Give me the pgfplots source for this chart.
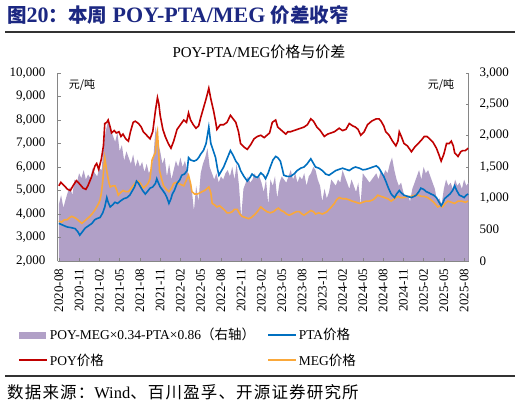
\documentclass[border=0pt]{standalone}
\usepackage{fontspec}
\setmainfont{Liberation Serif}
\newfontfamily\cjk{Noto Sans CJK SC}
\newfontfamily\cjksp{Noto Sans CJK SC}[LetterSpace=7]
\usepackage{pgfplots}
\pgfplotsset{compat=1.18}
\definecolor{poy}{RGB}{192,0,0}
\definecolor{pta}{RGB}{0,112,192}
\definecolor{meg}{RGB}{250,168,58}
\definecolor{spr}{RGB}{177,160,199}
\definecolor{axgray}{RGB}{134,134,134}
\definecolor{navy}{RGB}{28,40,130}
\definecolor{rule}{RGB}{50,50,50}
\newcommand\zh[1]{{\cjk #1}}
\begin{document}
\begin{tikzpicture}
\useasboundingbox (0pt,0pt) rectangle (521pt,406pt);
\fill[white] (0pt,0pt) rectangle (521pt,406pt);
\node[anchor=west, text=navy, font=\fontsize{22}{26}\selectfont\bfseries, inner sep=0pt] at (7pt,391pt)
  {{\cjk\fontsize{19.5}{23}\selectfont 图}20{\cjk\fontsize{19.5}{23}\selectfont ：本周} POY-PTA/MEG {\cjk\fontsize{19.5}{23}\selectfont 价差收窄}};
\draw[rule, line width=1.2pt] (5pt,374pt) -- (515pt,374pt);
\draw[rule, line width=1.2pt] (5pt,30pt) -- (515pt,30pt);
\node[anchor=west, inner sep=0pt, font=\fontsize{16.5}{19}\selectfont] at (7pt,13.5pt)
  {{\cjksp 数据来源：}Wind{\cjksp 、百川盈孚、开源证券研究所}};
\node[font=\fontsize{15}{18}\selectfont, inner sep=0pt] at (259pt,354pt) {POY-PTA/MEG{\cjk 价格与价差}};
\node[font=\cjk\fontsize{11}{13}\selectfont, inner sep=0pt] at (82pt,321pt) {元/吨};
\node[font=\cjk\fontsize{11}{13}\selectfont, inner sep=0pt] at (441pt,321pt) {元/吨};

% right axis: spread area
\begin{axis}[at={(57.5pt,145pt)}, anchor=south west, scale only axis,
  width=411pt, height=188pt,
  xmin=-0.2, xmax=60.65, ymin=0, ymax=3000,
  axis y line*=right, hide x axis,
  ytick={0,500,1000,1500,2000,2500,3000},
  scaled y ticks=false,
  tick align=inside, major tick length=3pt,
  y axis line style={draw=axgray, line width=0.8pt},
  ytick style={draw=axgray, line width=0.6pt},
  yticklabel style={font=\fontsize{13}{15}\selectfont, anchor=west, inner sep=0pt, xshift=11pt},
  /pgf/number format/.cd, 1000 sep={,}, assume math mode=true]
\addplot[fill=spr, draw=none] table {
x y
0 900
0.33 1050
0.67 850
1 980
1.33 1100
1.67 1180
2 1050
2.33 1300
2.67 1250
3 1400
3.33 1320
3.67 1450
4 1300
4.33 1380
4.67 1320
5 1480
5.33 1400
5.67 1350
6 1480
6.33 1450
6.67 1900
7 2100
7.33 2250
7.67 2100
8 2000
8.33 1900
8.67 2050
9 1750
9.33 1850
9.67 1600
10 1750
10.33 1650
10.67 1550
11 1700
11.33 1500
11.67 1620
12 1500
12.33 1580
12.67 1420
13 1550
13.33 1400
13.67 1480
14 1650
14.33 2150
14.67 1900
15 1750
15.33 1550
15.67 1650
16 1350
16.33 1550
16.67 1300
17 1450
17.33 1600
17.67 1500
18 1650
18.33 1500
18.67 1600
19 1450
19.33 1300
19.67 1150
20 800
20.33 1200
20.67 950
21 1400
21.33 1550
21.67 1650
22 1800
22.33 1500
22.67 1400
23 1300
23.33 1400
23.67 1250
24 1350
24.33 1300
24.67 1400
25 1450
25.33 1350
25.67 1500
26 1300
26.33 1550
26.67 1200
27 700
27.33 1150
27.67 1250
28 1350
28.33 1250
28.67 1300
29 1400
29.33 1300
29.67 1350
30 1250
30.33 1100
30.67 1300
31 900
31.33 1300
31.67 1200
32 1350
32.33 1000
32.67 1250
33 1350
33.33 1300
33.67 1250
34 1350
34.33 1450
34.67 1300
35 1400
35.33 1250
35.67 1350
36 1300
36.33 1400
36.67 1200
37 1350
37.33 1400
37.67 1500
38 1450
38.33 1300
38.67 1200
39 950
39.33 1150
39.67 1000
40 1100
40.33 1300
40.67 1250
41 1200
41.33 1300
41.67 1250
42 1450
42.33 1350
42.67 1250
43 1150
43.33 1300
43.67 1200
44 1100
44.33 1250
44.67 900
45 1400
45.33 1350
45.67 1300
46 1250
46.33 1300
46.67 1350
47 1400
47.33 1300
47.67 1450
48 1350
48.33 1450
48.67 1400
49 1550
49.33 1650
49.67 1450
50 1300
50.33 1200
50.67 1250
51 1100
51.33 1000
51.67 1050
52 950
52.33 1150
52.67 1250
53 1350
53.33 1450
53.67 1300
54 1500
54.33 1400
54.67 1450
55 1350
55.33 1250
55.67 1150
56 950
56.33 1000
56.67 900
57 1150
57.33 1300
57.67 1200
58 1250
58.33 1150
58.67 1300
59 1200
59.33 1250
59.67 1150
60 1300
60.33 1200
60.65 1250
} \closedcycle;
\end{axis}

% left axis: prices
\begin{axis}[at={(57.5pt,145pt)}, anchor=south west, scale only axis,
  width=411pt, height=188pt,
  xmin=-0.2, xmax=60.65, ymin=2000, ymax=10000,
  axis x line*=bottom, axis y line*=left,
  ytick={2000,3000,...,10000},
  scaled y ticks=false,
  xtick={0,3,...,60},
  xticklabels={2020-08,2020-11,2021-02,2021-05,2021-08,2021-11,2022-02,2022-05,2022-08,2022-11,2023-02,2023-05,2023-08,2023-11,2024-02,2024-05,2024-08,2024-11,2025-02,2025-05,2025-08},
  tick align=inside, major tick length=3pt,
  axis line style={draw=axgray, line width=0.8pt, -},
  tick style={draw=axgray, line width=0.6pt},
  yticklabel style={font=\fontsize{13}{15}\selectfont, anchor=east, inner sep=0pt, xshift=-12pt},
  xticklabel style={font=\fontsize{13}{15}\selectfont, yshift=-7.5pt, rotate=90, anchor=east, inner sep=0pt},
  legend style={at={(0,0)}, anchor=north west, xshift=-39.5pt, yshift=-65pt, draw=none, fill=none,
    inner sep=0pt, legend columns=2, font=\fontsize{13.5}{16}\selectfont, row sep=8.5pt,
    /tikz/every even column/.append style={column sep=10pt}},
  legend cell align=left,
  /pgf/number format/.cd, 1000 sep={,}, assume math mode=true]
\addlegendimage{legend image code/.code={\fill[spr] (0pt,-3pt) rectangle (26pt,3pt);}}
\addlegendentry{POY-MEG×0.34-PTA×0.86\zh{（右轴）}}
\addlegendimage{legend image code/.code={\draw[pta, line width=1.6pt] (0pt,0pt) -- (28pt,0pt);}}
\addlegendentry{PTA\zh{价格}}
\addlegendimage{legend image code/.code={\draw[poy, line width=1.6pt] (0pt,0pt) -- (28pt,0pt);}}
\addlegendentry{POY\zh{价格}}
\addlegendimage{legend image code/.code={\draw[meg, line width=1.6pt] (0pt,0pt) -- (28pt,0pt);}}
\addlegendentry{MEG\zh{价格}}

\addplot[meg, line width=1.6pt, forget plot] table {
x y
0 3700
0.4 3650
0.8 3750
1.2 3750
1.6 3850
1.9 3900
2.3 3850
2.6 3800
3.0 3700
3.4 3600
3.8 3700
4.2 3800
4.6 3900
4.9 4000
5.3 4150
5.6 4300
5.9 4450
6.1 4600
6.3 4900
6.5 5400
6.7 6100
6.8 6400
7.0 6000
7.2 5650
7.4 5350
7.6 5150
8.0 5200
8.3 5200
8.6 5000
8.8 4800
9.1 4900
9.5 5000
9.9 4950
10.3 4950
10.6 5050
11.0 5200
11.4 5350
11.8 5400
12.2 5250
12.5 5100
12.9 5200
13.2 5300
13.5 5500
13.8 6300
14.1 6500
14.3 6600
14.5 7350
14.6 7500
14.8 6500
14.9 5850
15.2 5500
15.5 5200
15.9 5050
16.3 4950
16.7 5100
17.0 5300
17.4 5350
17.7 5300
18.1 5250
18.5 5200
18.9 5450
19.2 5650
19.5 5300
19.7 4950
20.1 4850
20.5 4850
20.9 4900
21.2 4950
21.6 5000
22.2 5150
22.5 4900
22.7 4450
23.0 4400
23.4 4300
23.8 4350
24.2 4250
24.6 4150
24.9 4050
25.3 4050
25.7 4100
26.0 4200
26.4 4200
26.8 4000
27.1 3900
27.6 3850
28.1 3800
28.5 3850
28.9 3950
29.4 4100
29.9 4300
30.3 4200
30.8 4100
31.3 4050
31.8 4100
32.2 4200
32.5 4250
32.9 4150
33.3 4100
33.7 4000
34.1 3950
34.5 4000
34.8 4050
35.2 4100
35.6 4100
36.0 4000
36.3 3950
36.8 4050
37.3 4150
37.7 4100
38.0 4000
38.5 4050
39.0 4000
39.4 4050
39.7 4100
40.2 4250
40.8 4450
41.1 4600
41.5 4700
42.0 4650
42.5 4650
43.0 4600
43.4 4550
44.0 4500
44.5 4450
45.0 4500
45.5 4550
46.0 4550
46.5 4600
46.9 4700
47.2 4800
47.7 4750
48.2 4700
48.7 4650
49.2 4550
49.7 4650
50.2 4750
50.6 4700
51.1 4700
51.6 4750
52.2 4750
52.7 4800
53.2 4800
53.7 4750
54.1 4750
54.6 4700
55.1 4600
55.5 4500
56.1 4300
56.5 4350
56.8 4300
57.2 4450
57.6 4550
58.1 4500
58.6 4450
59.1 4550
59.6 4550
60.2 4500
60.6 4550
};
\addplot[pta, line width=1.6pt, forget plot] table {
x y
0 3600
0.4 3550
0.8 3500
1.2 3450
1.8 3420
2.4 3380
2.8 3250
3.1 3100
3.5 3250
3.9 3400
4.4 3500
4.9 3600
5.3 3750
5.6 3800
6.1 3850
6.5 4050
6.8 4300
7.1 4700
7.3 4500
7.6 4300
8.0 4400
8.3 4500
8.7 4450
9.1 4550
9.6 4650
10.1 4700
10.5 4800
10.8 4950
11.2 5150
11.5 5400
11.8 5300
12.0 5200
12.4 5000
12.8 4850
13.1 4950
13.5 5100
13.9 5150
14.3 5300
14.5 5500
14.7 5350
15.0 5150
15.4 5000
15.75 4850
16.0 4700
16.3 4450
16.6 4650
16.8 4850
17.1 5000
17.5 5300
17.9 5450
18.2 5650
18.6 5700
19.0 5850
19.2 6400
19.5 6300
20.0 6250
20.4 6300
20.7 6400
21.0 6550
21.4 6700
21.8 7000
22.2 7700
22.5 7000
22.8 6750
23.2 6400
23.5 5900
23.7 5650
24.0 5800
24.4 6000
24.9 6350
25.4 6700
25.8 6500
26.2 6250
26.6 6100
26.9 5850
27.4 5600
27.9 5400
28.3 5550
28.6 5700
29.0 5600
29.4 5550
29.9 5750
30.3 5650
30.6 5500
31.0 5750
31.3 6000
31.7 6300
32.1 6450
32.4 6400
32.8 6250
33.1 5900
33.3 5650
33.8 5600
34.3 5600
34.8 5700
35.3 5850
35.8 5950
36.3 6000
36.8 6150
37.3 6350
37.6 6200
38.0 6000
38.5 5950
39.0 5850
39.5 5700
40.0 5650
40.5 5750
41.0 5850
41.5 5900
42.0 5950
42.5 5900
43.0 5850
43.5 5950
43.9 6000
44.5 5950
45.0 5880
45.5 5900
46.0 5950
46.5 6000
47.0 6050
47.4 5950
47.7 5800
48.1 5600
48.4 5400
48.8 5100
49.2 4850
49.7 4700
50.0 4850
50.4 5000
50.7 4900
51.1 4800
51.6 4750
52.2 4700
52.6 4750
52.9 4800
53.3 4950
53.6 5100
54.0 5050
54.4 4950
54.8 4900
55.1 4850
55.5 4800
55.9 4700
56.3 4500
56.6 4350
56.9 4500
57.1 4650
57.5 4750
57.9 4850
58.3 5000
58.6 5200
58.9 5000
59.3 4800
59.7 4750
60.0 4700
60.3 4800
60.6 4850
};
\addplot[poy, line width=1.6pt, forget plot] table {
x y
0 5200
0.3 5350
0.8 5200
1.3 5050
1.7 5000
2.2 5250
2.6 5420
3.0 5300
3.6 5100
4.0 5050
4.3 5200
4.8 5550
5.35 6050
5.6 6150
5.9 5900
6.3 6350
6.6 6900
6.8 7850
7.1 7900
7.3 8000
7.6 7700
7.8 7450
8.2 7550
8.5 7450
8.9 7500
9.2 7300
9.5 7400
9.9 7200
10.3 7100
10.6 7500
11.0 7900
11.3 7950
11.8 7850
12.2 7700
12.5 7500
13.0 7350
13.5 7200
13.9 7500
14.3 8400
14.6 8950
14.8 8700
15.0 8200
15.4 7600
15.75 7300
16.2 7000
16.6 6800
17.0 7100
17.5 7600
18.0 7800
18.5 8000
18.9 7900
19.2 8300
19.5 8000
19.9 7800
20.3 7650
20.7 7750
21.0 8100
21.4 8500
21.8 8900
22.2 9350
22.5 8900
22.9 8400
23.2 7950
23.4 7600
23.9 7800
24.4 7800
24.9 7900
25.4 8200
25.8 8050
26.2 7900
26.6 7500
26.9 7000
27.4 6850
27.9 6750
28.4 6950
28.9 7200
29.4 7300
29.9 7350
30.4 7250
30.8 7350
31.2 7450
31.6 7900
32.1 8000
32.4 7700
32.8 7600
33.2 7500
33.6 7400
33.9 7500
34.3 7500
34.8 7550
35.3 7600
35.8 7650
36.3 7700
36.8 7800
37.3 8050
37.7 7950
38.2 7700
38.7 7550
39.3 7300
39.8 7400
40.3 7450
40.8 7500
41.5 7650
42.0 7550
42.5 7600
43.0 7850
43.5 7750
43.9 7700
44.3 7600
44.7 7350
45.2 7500
45.7 7800
46.3 7950
47.0 8050
47.4 8050
47.7 7950
48.1 7750
48.4 7500
48.9 7350
49.4 7100
49.9 6900
50.2 7100
50.4 7500
50.7 7300
51.1 7000
51.6 6900
52.2 6650
52.7 6850
53.2 7000
53.7 7150
54.1 7300
54.5 7300
54.9 7200
55.4 7050
55.9 6800
56.3 6500
56.6 6250
57.0 6550
57.4 7000
57.8 7000
58.1 7100
58.4 6900
58.6 6600
59.1 6450
59.5 6650
59.8 6700
60.2 6700
60.6 6800
};
\end{axis}
\end{tikzpicture}
\end{document}
